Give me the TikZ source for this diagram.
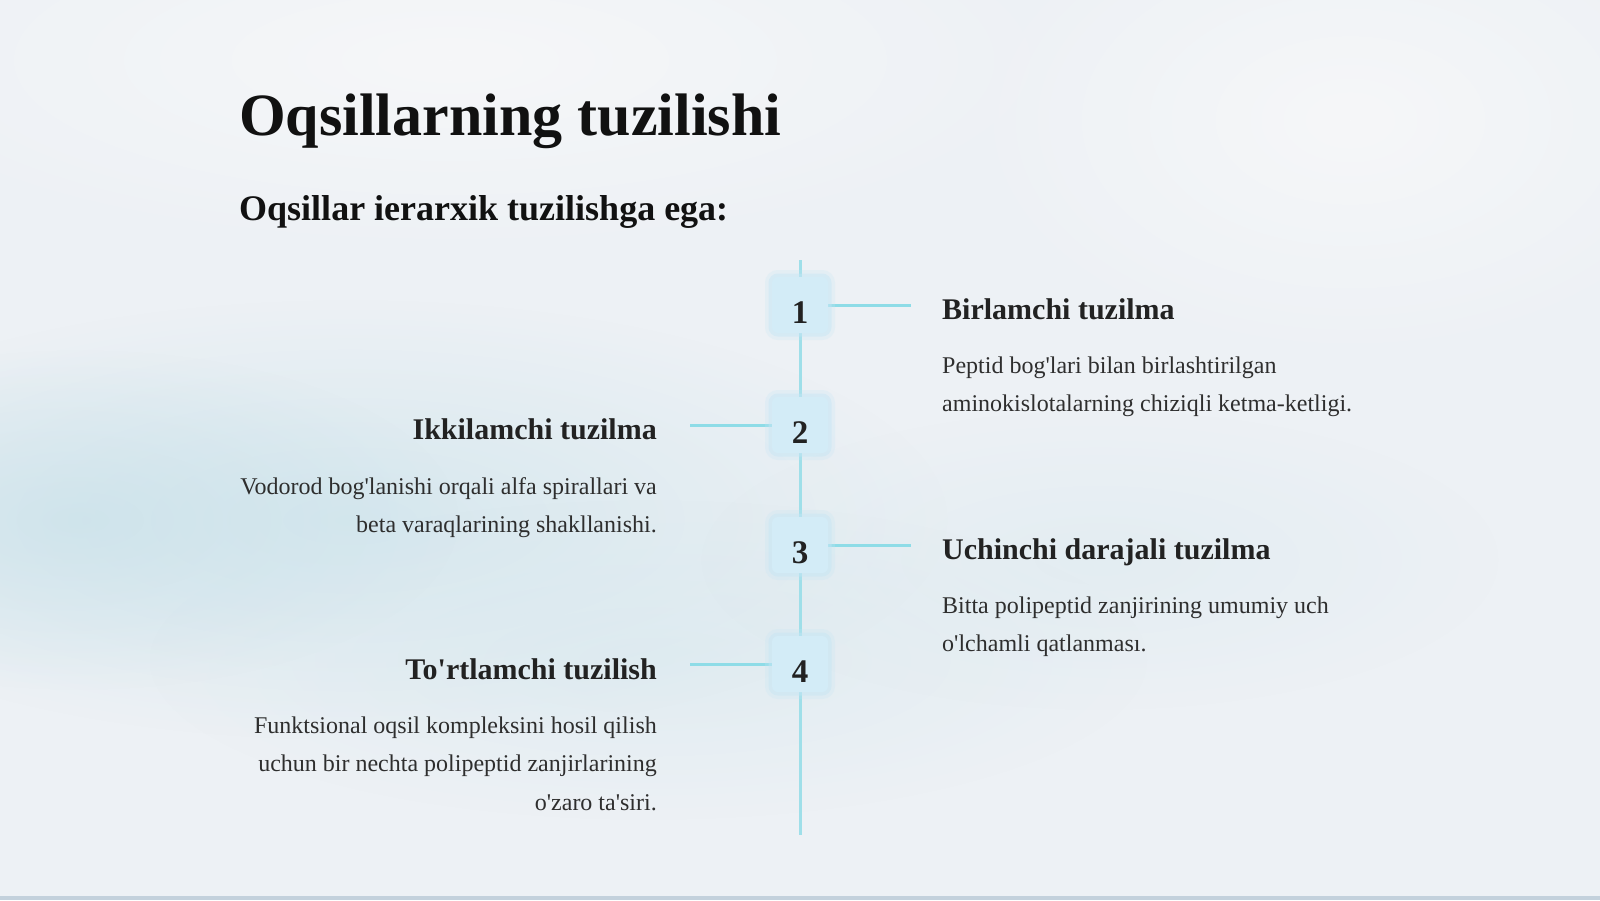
\documentclass[tikz,border=0pt]{standalone}
\usepackage{fontspec}
\newfontfamily\serif{Liberation Serif}
\usetikzlibrary{fadings}
\tikzfading[name=softblob, inner color=transparent!0, outer color=transparent!100]
\definecolor{bg}{HTML}{EDF1F5}
\definecolor{lineC}{HTML}{9FDFE9}
\definecolor{connC}{HTML}{8EDCE7}
\definecolor{boxC}{HTML}{D3ECF7}
\definecolor{glowC}{HTML}{C6E6F4}
\definecolor{headC}{HTML}{222222}
\definecolor{bodyC}{HTML}{2E2E2E}
\definecolor{titleC}{HTML}{111111}
\definecolor{blobA}{HTML}{C4DFE8}
\definecolor{blobB}{HTML}{D4E7EE}
\definecolor{blobW}{HTML}{F6F7F9}
\definecolor{edgeC}{HTML}{C3D1DC}
\pgfdeclarelayer{back}
\pgfdeclarelayer{mid}
\pgfsetlayers{back,mid,main}
\begin{document}
\begin{tikzpicture}[x=1pt,y=-1pt,
  numbox/.style={fill=boxC, rounded corners=6pt, minimum width=56pt, minimum height=56pt, inner sep=0pt,
    font=\serif\bfseries\fontsize{33}{33}\selectfont, text=headC, text height=36pt, text depth=0pt,
    preaction={draw=glowC, line width=14pt, draw opacity=0.25},
    preaction={draw=glowC, line width=7pt, draw opacity=0.45}},
  vline/.style={draw=lineC, line width=3pt},
  conn/.style={draw=connC, line width=3pt},
  blob/.style={path fading=softblob},
  titletext/.style={inner sep=0pt, font=\serif\bfseries\fontsize{60}{72}\selectfont, text=titleC},
  subtext/.style={inner sep=0pt, font=\serif\bfseries\fontsize{36}{43}\selectfont, text=titleC},
  head/.style={inner sep=0pt, font=\serif\bfseries\fontsize{30}{36}\selectfont, text=headC},
  body/.style={inner sep=0pt, font=\serif\fontsize{24}{38.6}\selectfont, text=bodyC}]
\useasboundingbox (0,0) rectangle (1600,900);
\begin{pgfonlayer}{back}
  \fill[bg] (0,0) rectangle (1600,900);
  \fill[blobW, blob] (450,60) ellipse [x radius=650, y radius=200];
  \fill[blobW, blob] (1350,120) ellipse [x radius=400, y radius=250];
  \fill[blobB, blob, opacity=0.9] (350,520) ellipse [x radius=600, y radius=220];
  \fill[blobA, blob, opacity=0.6] (80,520) ellipse [x radius=380, y radius=170];
  \fill[blobB, blob, opacity=0.5] (650,660) ellipse [x radius=500, y radius=160];
  \fill[blobB, blob, opacity=0.4] (1100,560) ellipse [x radius=400, y radius=150];
  \fill[edgeC] (0,896) rectangle (1600,900);
\end{pgfonlayer}

\node[titletext, anchor=base west] (title) at (239,135) {Oqsillarning tuzilishi};
\node[subtext, anchor=base west] (sub) at (239,220) {Oqsillar ierarxik tuzilishga ega:};

\coordinate (top) at (800,260);
\coordinate (bot) at (800,835);
\node[numbox] (b1) at (800,305) {1};
\node[numbox] (b2) at (800,425) {2};
\node[numbox] (b3) at (800,545) {3};
\node[numbox] (b4) at (800,664) {4};
\coordinate (r1) at (911,305);
\coordinate (l2) at (690,425);
\coordinate (r3) at (911,545);
\coordinate (l4) at (690,664);

\begin{pgfonlayer}{mid}
  \draw[vline] (top) -- (b1);
  \draw[vline] (b1) -- (b2);
  \draw[vline] (b2) -- (b3);
  \draw[vline] (b3) -- (b4);
  \draw[vline] (b4) -- (bot);
  \draw[conn] (b1) -- (r1);
  \draw[conn] (b2) -- (l2);
  \draw[conn] (b3) -- (r3);
  \draw[conn] (b4) -- (l4);
\end{pgfonlayer}

\node[head, anchor=base west] (h1) at (942,319) {Birlamchi tuzilma};
\node[body, anchor=base west] (t1) at (942,373) {\parbox[t]{500pt}{\raggedright Peptid bog'lari bilan birlashtirilgan\\aminokislotalarning chiziqli ketma-ketligi.}};

\node[head, anchor=base east] (h2) at (657,439) {Ikkilamchi tuzilma};
\node[body, anchor=base east] (t2) at (657,494) {\parbox[t]{500pt}{\raggedleft Vodorod bog'lanishi orqali alfa spirallari va\\beta varaqlarining shakllanishi.}};

\node[head, anchor=base west] (h3) at (942,559) {Uchinchi darajali tuzilma};
\node[body, anchor=base west] (t3) at (942,613) {\parbox[t]{500pt}{\raggedright Bitta polipeptid zanjirining umumiy uch\\o'lchamli qatlanması.}};

\node[head, anchor=base east] (h4) at (657,679) {To'rtlamchi tuzilish};
\node[body, anchor=base east] (t4) at (657,733) {\parbox[t]{500pt}{\raggedleft Funktsional oqsil kompleksini hosil qilish\\uchun bir nechta polipeptid zanjirlarining\\o'zaro ta'siri.}};
\end{tikzpicture}
\end{document}
